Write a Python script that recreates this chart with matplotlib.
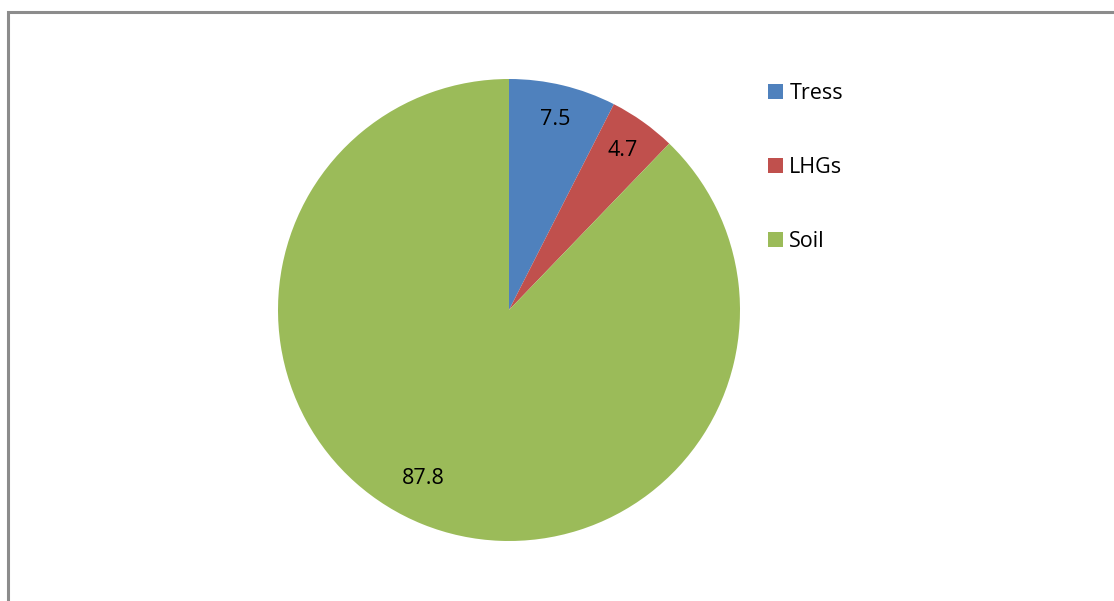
import numpy as np
import matplotlib.pyplot as plt
from matplotlib.patches import Rectangle

labels = ['Tress', 'LHGs', 'Soil']
values = [7.5, 4.7, 87.8]
colors = ['#4F81BD', '#C0504D', '#9BBB59']

W, H = 1114, 601
fig = plt.figure(figsize=(W / 100, H / 100), dpi=100)
plt.rcParams['font.family'] = ['Open Sans', 'DejaVu Sans']

# chart border (runs off the right and bottom edges)
fig.patches.append(Rectangle((8 / W, -0.1), 1.2, (H - 12) / H + 0.1,
                             transform=fig.transFigure, fill=False,
                             edgecolor='#8c8c8c', linewidth=2.2))

cx, cy, r = 509, 310, 231
ax = fig.add_axes([(cx - r) / W, (H - cy - r) / H, 2 * r / W, 2 * r / H])
wedges, texts, autotexts = ax.pie(values, colors=colors, startangle=90,
                                  counterclock=False, autopct='%.1f',
                                  pctdistance=0.85, radius=1,
                                  textprops={'fontsize': 15.5, 'color': 'black'})
# Excel nudges the big slice label a bit off the mid-angle
w = wedges[2]
ang = np.deg2rad((w.theta1 + w.theta2) / 2 - 5)
autotexts[2].set_position((0.82 * np.cos(ang), 0.82 * np.sin(ang)))
ax.set_xlim(-1, 1)
ax.set_ylim(-1, 1)
ax.set_aspect('equal')

fig.legend(wedges, labels, loc='upper left',
           bbox_to_anchor=(757 / W, 1 - 72 / H), frameon=False,
           fontsize=15.5, handlelength=0.7, handleheight=0.7,
           handletextpad=0.3, labelspacing=2.47, borderpad=0)

fig.savefig('out.png', dpi=100)
